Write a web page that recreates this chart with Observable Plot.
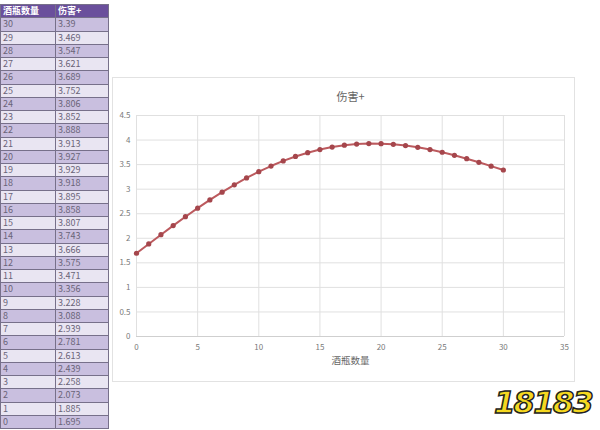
<!DOCTYPE html>
<html>
<head>
<meta charset="utf-8">
<script src="https://cdn.jsdelivr.net/npm/d3@7"></script>
<script src="https://cdn.jsdelivr.net/npm/@observablehq/plot@0.6"></script>
<style>
  html, body { margin:0; padding:0; background:#fff; }
  body { width:600px; height:430px; position:relative; overflow:hidden; font-family:"Noto Sans CJK SC","Noto Sans",sans-serif; }
  #tbl { position:absolute; left:0; top:4px; border-collapse:collapse; font-size:9px; }
  #tbl td { border:1px solid #77708a; height:12.25px; padding:0 2px; line-height:12px; color:#6a6478; }
  #tbl td.c1 { width:50px; }
  #tbl td.c2 { width:48px; }
  #tbl tr.h td { background:#6a4f9c; color:#fff; font-weight:bold; }
  #tbl tr.a td { background:#c9bfdf; }
  #tbl tr.b td { background:#e9e5f2; }
  #box { position:absolute; left:112px; top:77px; width:463px; height:305px; border:1px solid #e2e2e2; box-sizing:border-box; }
  #chart { position:absolute; left:112px; top:77px; }
  #logo { position:absolute; left:494px; top:384px; font-family:"DejaVu Sans",sans-serif; font-weight:900; font-style:italic; font-size:31px; letter-spacing:-2px; color:#f5d820; -webkit-text-stroke:1.5px #222; }
</style>
</head>
<body>
<table id="tbl"></table>
<div id="box"></div>
<div id="chart"></div>
<div id="logo">18183</div>
<script>
const bottles = [0,1,2,3,4,5,6,7,8,9,10,11,12,13,14,15,16,17,18,19,20,21,22,23,24,25,26,27,28,29,30];
const damage = [1.695,1.885,2.073,2.258,2.439,2.613,2.781,2.939,3.088,3.228,3.356,3.471,3.575,3.666,3.743,3.807,3.858,3.895,3.918,3.929,3.927,3.913,3.888,3.852,3.806,3.752,3.689,3.621,3.547,3.469,3.39];
const damageLabels = ["1.695","1.885","2.073","2.258","2.439","2.613","2.781","2.939","3.088","3.228","3.356","3.471","3.575","3.666","3.743","3.807","3.858","3.895","3.918","3.929","3.927","3.913","3.888","3.852","3.806","3.752","3.689","3.621","3.547","3.469","3.39"];
const xTicks = [0,5,10,15,20,25,30,35];
const yTicks = [0,0.5,1,1.5,2,2.5,3,3.5,4,4.5];
const headers = ["酒瓶数量","伤害+"];
const title = "伤害+";
const xLabel = "酒瓶数量";

// table
const tbl = document.getElementById("tbl");
let html = `<tr class="h"><td class="c1">${headers[0]}</td><td class="c2">${headers[1]}</td></tr>`;
for (let i = bottles.length - 1, k = 0; i >= 0; i--, k++) {
  html += `<tr class="${k % 2 === 0 ? "a" : "b"}"><td class="c1">${bottles[i]}</td><td class="c2">${damageLabels[i]}</td></tr>`;
}
tbl.innerHTML = html;

const data = bottles.map((b, i) => ({b, d: damage[i]}));

const chart = Plot.plot({
  width: 463,
  height: 305,
  marginLeft: 24,
  marginRight: 11,
  marginTop: 38,
  marginBottom: 46,
  style: {background: "transparent", color: "#7a7a7a", fontSize: "8px", fontFamily: "'Noto Sans CJK SC', sans-serif"},
  x: {domain: [0, 35], ticks: xTicks, tickSize: 0, tickPadding: 8, label: null},
  y: {domain: [0, 4.5], ticks: yTicks, tickSize: 0, tickPadding: 6, label: null, tickFormat: d => String(d)},
  marks: [
    Plot.ruleX(xTicks, {stroke: "#e0e0e0"}),
    Plot.ruleY(yTicks, {stroke: "#e0e0e0"}),
    Plot.ruleY([0], {stroke: "#cfcfcf"}),
    Plot.line(data, {x: "b", y: "d", stroke: "#bc5a5e", strokeWidth: 2}),
    Plot.dot(data, {x: "b", y: "d", fill: "#a5464c", r: 2.6}),
    Plot.text([title], {frameAnchor: "top", dy: -22, fontSize: 11, fill: "#666"}),
    Plot.text([xLabel], {frameAnchor: "bottom", dy: 27, fontSize: 9.5, fill: "#666"})
  ]
});
document.getElementById("chart").appendChild(chart);
</script>
</body>
</html>
